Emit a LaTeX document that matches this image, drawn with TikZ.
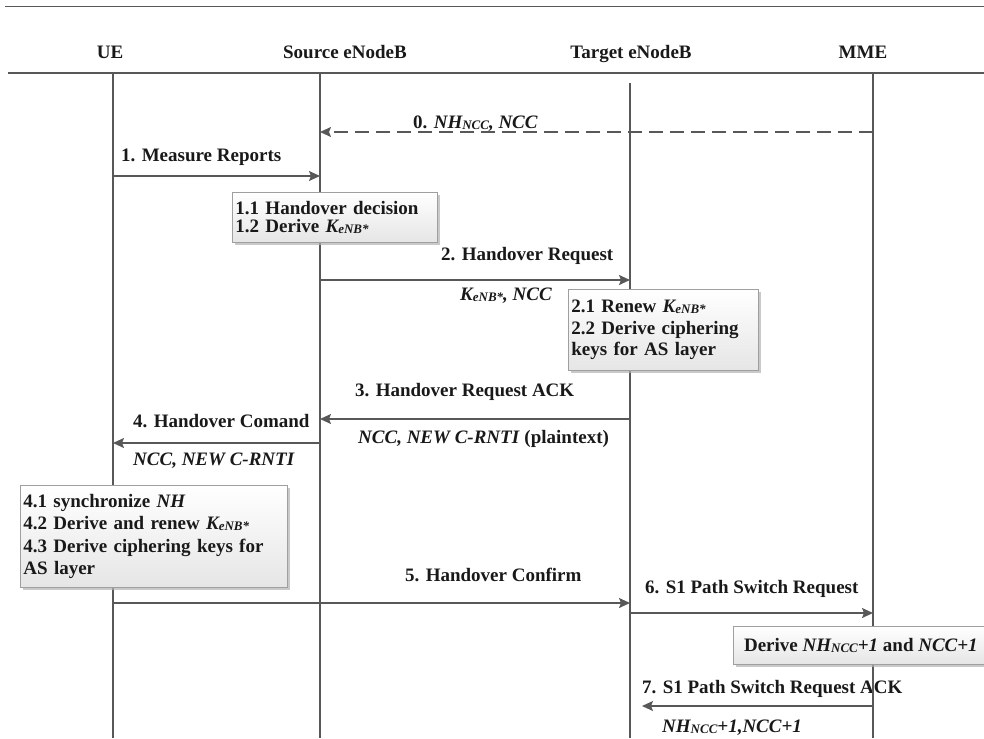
\documentclass[tikz,border=0pt]{standalone}
\usepackage{fontspec}
\setmainfont{Liberation Serif}
\usetikzlibrary{arrows.meta,shadows}
\definecolor{linegray}{RGB}{88,88,88}
\newcommand{\lowsub}[1]{\raisebox{-1pt}{\fontsize{13}{13}\selectfont #1}}
\tikzset{x=1pt, y=-1pt,
  lbl/.style={font=\fontsize{19}{22}\selectfont\bfseries, text=black!90, inner sep=0pt},
  life/.style={draw=linegray, line width=1.5pt},
  msg/.style={draw=linegray, line width=1.5pt, -{Stealth[length=11pt,width=10pt,inset=2pt]}},
  notebox/.style={lbl, draw=gray!75, line width=0.8pt, top color=white, bottom color=gray!20,
    drop shadow={shadow xshift=3pt, shadow yshift=-3pt, fill=gray!60, opacity=0.7},
    anchor=north west, align=left, inner xsep=3pt}}

\begin{document}
\begin{tikzpicture}
\useasboundingbox (0,0) rectangle (984,738);
\draw[linegray, line width=1pt] (5,7) -- (984,7);
\draw[linegray, line width=2pt] (8,73) -- (984,73);
\foreach \n/\x/\t in {ue/110/UE, src/345/Source eNodeB, tgt/631/Target eNodeB, mme/863/MME} % edit here for the heads
\node[lbl, anchor=base] (h\n) at (\x,59) {\t};
\coordinate (ue) at (113,73);
\coordinate (src) at (320,73);
\coordinate (tgt) at (630,83);
\coordinate (mme) at (873,73);
\coordinate (bot) at (0,738);
\foreach \y [count=\i from 0] in {132,176,280,419,443,603,613,706} % edit here for the message rows
\coordinate (m\i) at (0,\y);
% labels
\node[lbl, anchor=base west] (t0) at (413,129) {0. \textit{NH\lowsub{NCC}, NCC}};
\node[lbl, anchor=base west] (t1) at (121,161) {1. Measure Reports};
\node[lbl, anchor=base west] (t2) at (441,260) {2. Handover Request};
\node[lbl, anchor=base west] (t2b) at (460,300) {\textit{K\lowsub{eNB*}, NCC}};
\node[lbl, anchor=base west] (t3) at (355,396) {3. Handover Request ACK};
\node[lbl, anchor=base west] (t3b) at (358,443) {\textit{NCC, NEW C-RNTI} (plaintext)};
\node[lbl, anchor=base west] (t4) at (133,427) {4. Handover Comand};
\node[lbl, anchor=base west] (t4b) at (133,465) {\textit{NCC, NEW C-RNTI}};
\node[lbl, anchor=base west] (t5) at (405,581) {5. Handover Confirm};
\node[lbl, anchor=base west] (t6) at (645,593) {6. S1 Path Switch Request};
\node[lbl, anchor=base west] (t7) at (642,693) {7. S1 Path Switch Request ACK};
\node[lbl, anchor=base west] (t7b) at (662,732) {\textit{NH\lowsub{NCC}+1,NCC+1}};
% lifelines
\foreach \n in {ue,src,tgt,mme}
\draw[life] (\n) -- (\n |- bot);
% messages
\draw[msg, dash pattern=on 14pt off 7pt] (mme |- m0) -- (src |- m0);
\draw[msg] (ue |- m1) -- (src |- m1);
\draw[msg] (src |- m2) -- (tgt |- m2);
\draw[msg] (tgt |- m3) -- (src |- m3);
\draw[msg] (src |- m4) -- (ue |- m4);
\draw[msg] (ue |- m5) -- (tgt |- m5);
\draw[msg] (tgt |- m6) -- (mme |- m6);
\draw[msg] (mme |- m7) -- ([xshift=12pt]tgt |- m7);
% boxes
\node[notebox, text width=199pt, minimum height=50pt, font=\fontsize{19}{18}\selectfont\bfseries] (b1) at (232,192)
  {1.1 Handover decision\\1.2 Derive \textit{K\lowsub{eNB*}}};
\node[notebox, text width=184pt, minimum height=81pt, font=\fontsize{19}{21.5}\selectfont\bfseries] (b2) at (568,289)
  {2.1 Renew \textit{K\lowsub{eNB*}}\\2.2 Derive ciphering\\keys for AS layer};
\node[notebox, text width=261pt, minimum height=102pt, font=\fontsize{19}{22.5}\selectfont\bfseries] (b4) at (20,485)
  {4.1 synchronize \textit{NH}\\4.2 Derive and renew \textit{K\lowsub{eNB*}}\\4.3 Derive ciphering keys for\\AS layer};
\node[notebox, minimum width=255pt, minimum height=38pt] (b6) at (733,626)
  {Derive \textit{NH\lowsub{NCC}+1} and \textit{NCC+1}};
\end{tikzpicture}
\end{document}
